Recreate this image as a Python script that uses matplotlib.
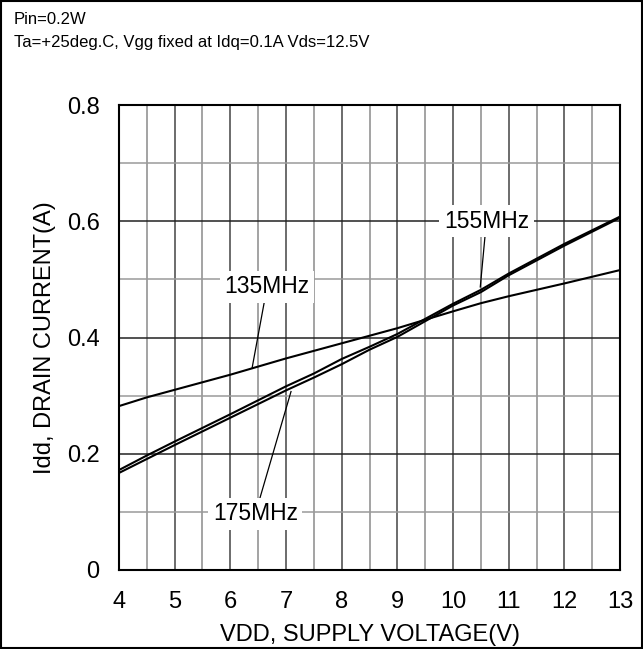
import matplotlib.pyplot as plt
import numpy as np

# supply voltage (V) and drain current (A)
vdd = [4, 4.5, 5, 6, 7, 7.5, 8, 8.5, 9, 10, 10.5, 11, 12, 13]
idd_135 = [0.282, 0.297, 0.310, 0.336, 0.364, 0.377, 0.390, 0.403, 0.416, 0.445, 0.459, 0.471, 0.493, 0.516]
idd_155 = [0.172, 0.197, 0.221, 0.268, 0.316, 0.338, 0.363, 0.384, 0.406, 0.458, 0.482, 0.510, 0.561, 0.608]
idd_175 = [0.167, 0.191, 0.215, 0.262, 0.309, 0.331, 0.354, 0.379, 0.401, 0.455, 0.478, 0.507, 0.558, 0.606]

labels = ['135MHz', '155MHz', '175MHz']
label_xy = [(6.66, 0.487), (10.6, 0.600), (6.45, 0.097)]
leader_end = [(6.39, 0.347), (10.49, 0.487), (7.09, 0.307)]

plt.rcParams['font.family'] = ['Liberation Sans', 'DejaVu Sans']

fig = plt.figure(figsize=(6.43, 6.49), dpi=100)
ax = fig.add_axes([119 / 643, 79 / 649, 501 / 643, 465 / 649])

# grid: every 0.5 V and every 0.1 A
for x in np.arange(4.5, 13, 0.5):
    ax.axvline(x, color='#444444' if x % 1 == 0 else '#8a8a8a', lw=1.1, zorder=1)
for y in np.arange(0.1, 0.8, 0.1):
    major = round(y * 10) % 2 == 0
    ax.axhline(y, color='#222222' if major else '#9a9a9a', lw=1.1, zorder=1)

for series in (idd_135, idd_155, idd_175):
    ax.plot(vdd, series, color='black', lw=1.5, zorder=3)

for text, (tx, ty), (ex, ey) in zip(labels, label_xy, leader_end):
    ax.plot([tx, ex], [ty, ey], color='black', lw=0.9, zorder=4)
    ax.text(tx, ty, text, ha='center', va='center', fontsize=16.5, zorder=5,
            bbox=dict(boxstyle='square,pad=0.2', fc='white', ec='none'))

ax.set_xlim(4, 13)
ax.set_ylim(0, 0.8)
ax.set_xticks(range(4, 14))
ax.set_yticks([0, 0.2, 0.4, 0.6, 0.8])
ax.set_yticklabels(['0', '0.2', '0.4', '0.6', '0.8'])
ax.tick_params(length=0, labelsize=17)
ax.tick_params(axis='x', pad=15)
ax.tick_params(axis='y', pad=14)
for s in ax.spines.values():
    s.set_linewidth(1.5)
ax.set_xlabel('VDD, SUPPLY VOLTAGE(V)', fontsize=17, labelpad=8)
ax.set_ylabel('Idd, DRAIN CURRENT(A)', fontsize=17, labelpad=8)

fig.text(14 / 643, 1 - 20 / 649, 'Pin=0.2W', fontsize=12, va='center')
fig.text(14 / 643, 1 - 43 / 649, 'Ta=+25deg.C, Vgg fixed at Idq=0.1A Vds=12.5V', fontsize=12, va='center')

fig.patches.append(plt.Rectangle((0.002, 0.002), 0.996, 0.996, transform=fig.transFigure,
                                 fill=False, ec='black', lw=1.5))

fig.savefig('out.png', dpi=100)
